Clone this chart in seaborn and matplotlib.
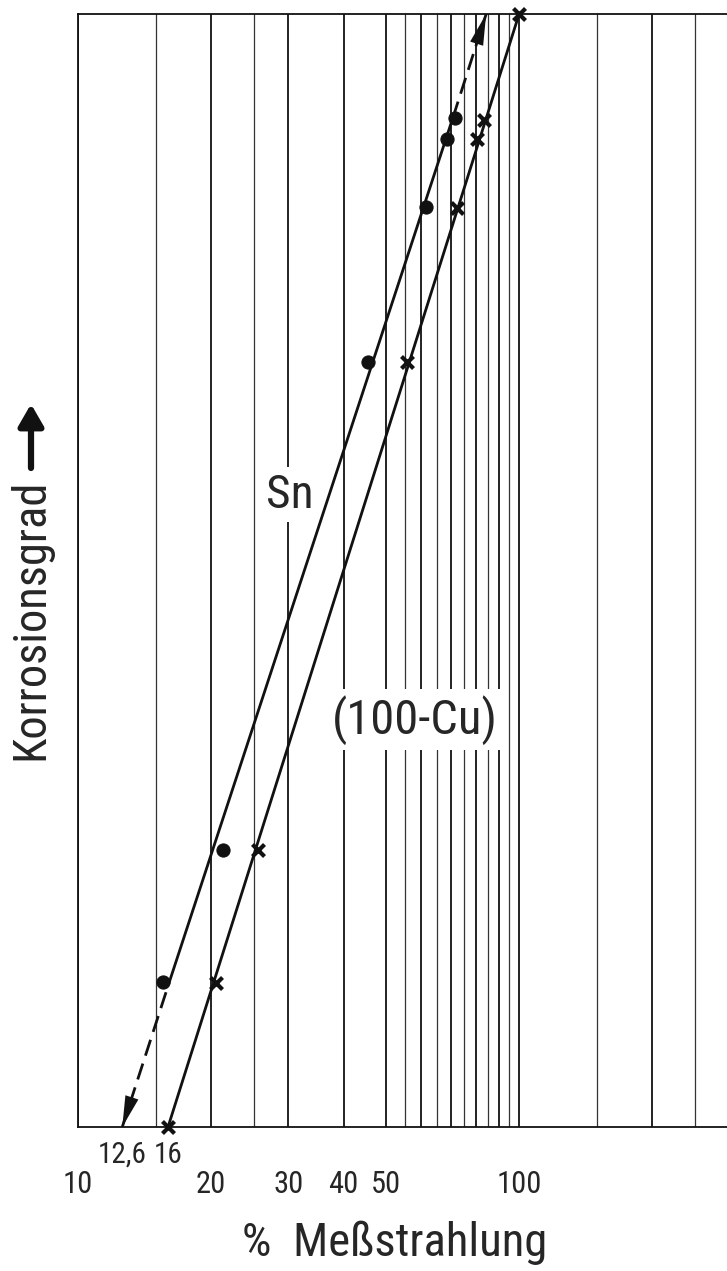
import numpy as np
import pandas as pd
import matplotlib
matplotlib.use("Agg")
import matplotlib.pyplot as plt
import seaborn as sns
from matplotlib import font_manager

# measured points (Korrosionsgrad in arbitrary units 0..100)
sn_x = [15.6, 21.3, 45.5, 61.5, 68.7, 71.6]
sn_y = [13.0, 24.9, 68.7, 82.7, 88.8, 90.7]
cu_x = [16, 20.6, 25.6, 55.7, 72.3, 80.3, 83.3, 100]
cu_y = [0, 12.9, 24.9, 68.7, 82.6, 88.8, 90.5, 100]

# fitted lines (break points of the dashed parts)
sn_line_x = [12.6, 16.1, 70.8, 84.2]
sn_line_y = [0, 13.0, 90.7, 100]
cu_line_x = [16, 100]
cu_line_y = [0, 100]

major_ticks = [10, 20, 30, 40, 50, 60, 70, 80, 90, 100, 200]
tick_labels = ['10', '20', '30', '40', '50', '', '', '', '', '100', '']
minor_ticks = [15, 25, 55, 65, 75, 85, 95, 150, 250]
extra_ticks = [12.6, 16]
extra_labels = ['12,6', '16']

sns.set_style("white")
names = {f.name for f in font_manager.fontManager.ttflist}
narrow = 'Liberation Sans'
for cand in ['Liberation Sans Narrow', 'DejaVu Sans Condensed', 'Roboto Condensed',
             'Noto Sans Condensed', 'Open Sans Condensed', 'Roboto']:
    if cand in names:
        narrow = cand
        break
plt.rcParams['font.family'] = [narrow, 'DejaVu Sans']
plt.rcParams['font.stretch'] = 'condensed'

fig = plt.figure(figsize=(7.27, 12.71), dpi=100)
ax = fig.add_axes([78/727, 144/1271, 1 - 78/727, 1113/1271])
ax.set_xscale('log')
ax.set_xlim(10, 296)
ax.set_ylim(0, 100)

ink = '#111111'
lw = 2.0

sn_df = pd.DataFrame({'x': sn_line_x, 'y': sn_line_y})
sns.lineplot(data=sn_df.iloc[0:2], x='x', y='y', ax=ax, color=ink, lw=lw,
             linestyle=(0, (6, 3)), sort=False)
sns.lineplot(data=sn_df.iloc[1:3], x='x', y='y', ax=ax, color=ink, lw=lw, sort=False)
sns.lineplot(data=sn_df.iloc[2:4], x='x', y='y', ax=ax, color=ink, lw=lw,
             linestyle=(0, (6, 3)), sort=False)
sns.lineplot(x=cu_line_x, y=cu_line_y, ax=ax, color=ink, lw=lw, sort=False)

# arrow heads at both ends of the Sn line
for (x0, y0), (x1, y1) in [((sn_line_x[1], sn_line_y[1]), (sn_line_x[0], sn_line_y[0])),
                           ((sn_line_x[2], sn_line_y[2]), (sn_line_x[3], sn_line_y[3]))]:
    xb = np.exp(np.log(x1) + (np.log(x0) - np.log(x1)) * 0.2)
    yb = y1 + (y0 - y1) * 0.2
    ax.annotate('', xy=(x1, y1), xytext=(xb, yb), annotation_clip=False,
                arrowprops=dict(arrowstyle='-|>,head_length=1.6,head_width=0.35',
                                color=ink, lw=0.01, mutation_scale=14,
                                shrinkA=0, shrinkB=0))

sns.scatterplot(x=sn_x, y=sn_y, ax=ax, marker='o', s=90, color=ink,
                edgecolor=ink, clip_on=False, zorder=4)
sns.scatterplot(x=cu_x, y=cu_y, ax=ax, marker='x', s=75, color=ink,
                linewidth=3, clip_on=False, zorder=4)

ax.text(30.2, 56.8, 'Sn', fontsize=34, ha='center', va='center', zorder=1.5,
        bbox=dict(facecolor='white', edgecolor='none', pad=4))
ax.text(58.1, 36.6, '(100-Cu)', fontsize=35, ha='center', va='center', zorder=1.5,
        bbox=dict(facecolor='white', edgecolor='none', pad=4))

ax.set_xticks(major_ticks)
ax.set_xticklabels(tick_labels, fontsize=22)
ax.set_xticks(minor_ticks, minor=True)
ax.set_yticks([])
ax.tick_params(axis='x', which='major', direction='out', length=11, width=1.3,
               color=ink, pad=20)
ax.tick_params(axis='x', which='minor', length=0, labelbottom=False)
ax.grid(True, axis='x', which='major', color=ink, lw=1.3)
ax.grid(True, axis='x', which='minor', color='#333333', lw=0.9)
ax.set_axisbelow(True)

for v, lab in zip(extra_ticks, extra_labels):
    ax.annotate(lab, xy=(v, 0), xycoords=('data', 'axes fraction'),
                xytext=(0, -28), textcoords='offset pixels',
                ha='center', va='center', fontsize=21, annotation_clip=False)

for side in ['left', 'bottom', 'top']:
    ax.spines[side].set_color(ink)
    ax.spines[side].set_linewidth(1.3)
ax.spines['right'].set_visible(False)

ax.set_xlabel('%  Meßstrahlung', fontsize=32)
ax.xaxis.set_label_coords((395 - 78) / 649, -0.084)
ax.set_ylabel('')
ylab = fig.text(30/727, 1 - 619/1271, 'Korrosionsgrad', rotation=90, fontsize=32,
                ha='center', va='center')

# fit the label lengths to the reference
fig.canvas.draw()
r = fig.canvas.get_renderer()
h = ylab.get_window_extent(r).height
ylab.set_fontsize(32 * 282 / h)
xl = ax.xaxis.label
w = xl.get_window_extent(r).width
xl.set_fontsize(32 * 306 / w)

fig.patches.append(matplotlib.patches.FancyArrowPatch(
    (31/727, 1 - 468/1271), (31/727, 1 - 404/1271), transform=fig.transFigure,
    arrowstyle='-|>,head_length=1.3,head_width=0.75', mutation_scale=10,
    lw=4.5, color=ink, shrinkA=0, shrinkB=0))

fig.savefig('out.png', dpi=100)
